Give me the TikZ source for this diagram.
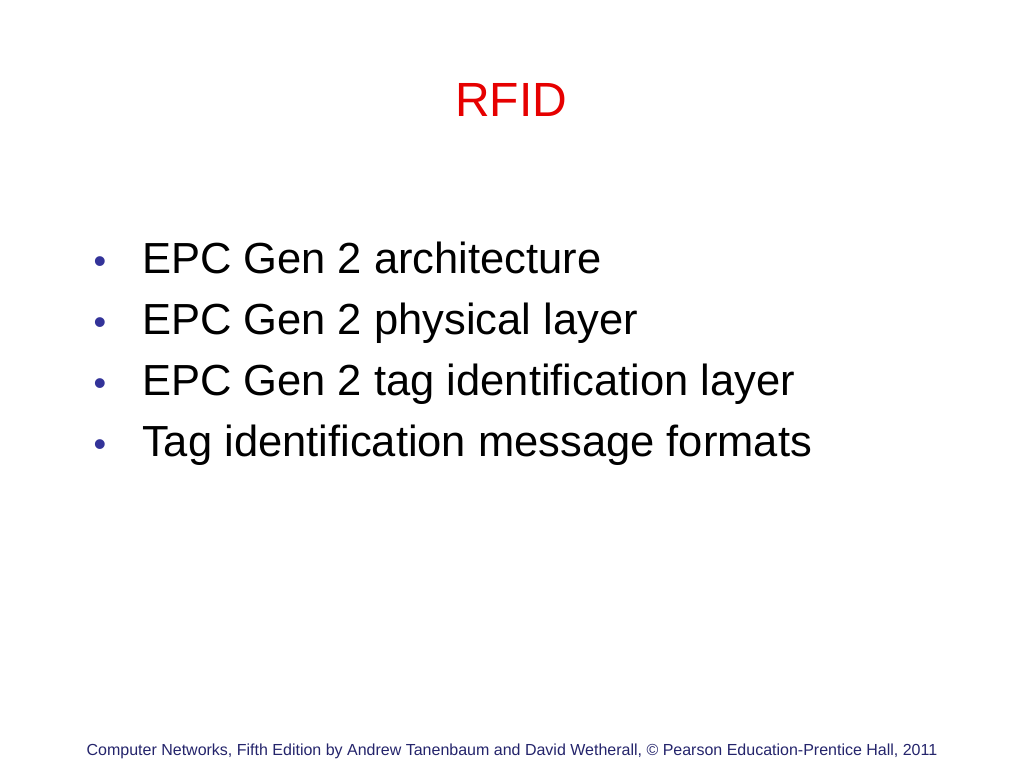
\documentclass[tikz,border=0pt]{standalone}
\usepackage{fontspec}
\setmainfont{Liberation Sans}
\definecolor{titlered}{RGB}{230,0,0}
\definecolor{bulletblue}{RGB}{51,51,153}
\begin{document}
\begin{tikzpicture}[x=1pt,y=-1pt,
  item/.style={anchor=base west,font=\fontsize{43.5}{48}\selectfont,inner sep=0pt},
  bul/.style={anchor=base,text=bulletblue,font=\fontsize{36}{40}\selectfont,inner sep=0pt}]
\useasboundingbox (0,0) rectangle (1024,768);
\node[text=titlered,font=\fontsize{48}{52}\selectfont] (title) at (511,100) {RFID};
\foreach \t [count=\i] in {EPC Gen 2 architecture,EPC Gen 2 physical layer,EPC Gen 2 tag identification layer,Tag identification message formats}{
  \node[bul] (b\i) at (100,{212+61*\i}) {•};
  \node[item] (t\i) at (142,{212+61*\i}) {\t};
}
\node[font=\fontsize{16}{18}\selectfont,text=bulletblue!70!black] (foot) at (512,751) {Computer Networks, Fifth Edition by Andrew Tanenbaum and David Wetherall, © Pearson Education-Prentice Hall, 2011};
\end{tikzpicture}
\end{document}
